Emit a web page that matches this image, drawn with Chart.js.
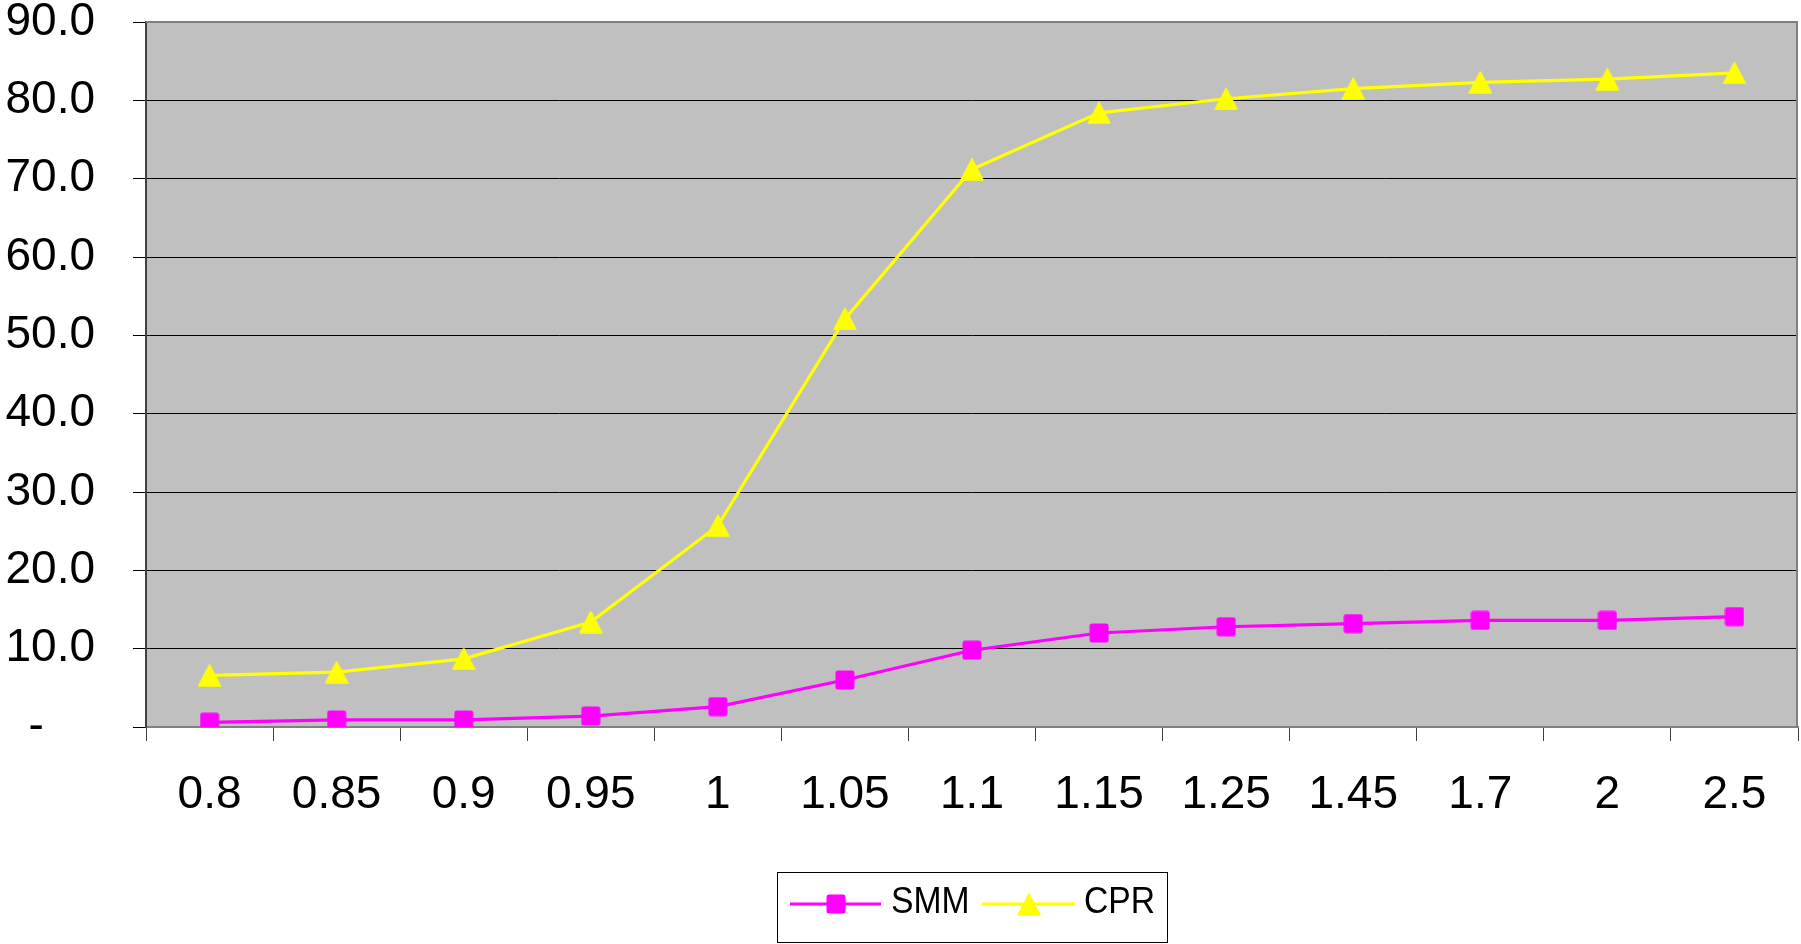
<!DOCTYPE html>
<html>
<head>
<meta charset="utf-8">
<script src="https://cdn.jsdelivr.net/npm/chart.js@4/dist/chart.umd.min.js"></script>
<style>
  html, body { margin: 0; padding: 0; background: #ffffff; overflow: hidden; }
  #wrap { width: 1801px; height: 944px; }
</style>
</head>
<body>
<div id="wrap"><canvas id="c" width="1801" height="944"></canvas></div>
<script>
// Prepayment speed by incentive ratio
const categories = ['0.8', '0.85', '0.9', '0.95', '1', '1.05', '1.1', '1.15', '1.25', '1.45', '1.7', '2', '2.5'];
const smmValues = [0.6, 0.9, 0.9, 1.4, 2.6, 6.0, 9.8, 12.0, 12.8, 13.2, 13.6, 13.6, 14.1];
const cprValues = [6.6, 7.0, 8.7, 13.4, 25.7, 52.1, 71.2, 78.4, 80.2, 81.5, 82.3, 82.7, 83.5];
const seriesNames = ['SMM', 'CPR'];
const yTickValues = [0, 10, 20, 30, 40, 50, 60, 70, 80, 90];

const FONT = '"Liberation Sans", Arial, Helvetica, sans-serif';

// Marker bitmaps, centred on the data point
function squareMarker(color, size) {
  const cv = document.createElement('canvas');
  cv.width = size; cv.height = size;
  const g = cv.getContext('2d');
  g.fillStyle = color;
  g.beginPath();
  if (g.roundRect) g.roundRect(0.5, 0.5, size - 1, size - 1, 2.5); else g.rect(0.5, 0.5, size - 1, size - 1);
  g.fill();
  return cv;
}
function triangleMarker(color, w, h) {
  const cv = document.createElement('canvas');
  cv.width = w; cv.height = h;
  const g = cv.getContext('2d');
  g.fillStyle = color;
  g.strokeStyle = color;
  g.lineJoin = 'round';
  g.lineWidth = 1.5;
  g.beginPath();
  g.moveTo(w / 2, 1);
  g.lineTo(w - 1, h - 1);
  g.lineTo(1, h - 1);
  g.closePath();
  g.fill();
  g.stroke();
  return cv;
}

const smmColor = '#ff00ff';
const cprColor = '#ffff00';
const smmMarker = squareMarker(smmColor, 20);
const cprMarker = triangleMarker(cprColor, 24, 23);

// Grey plot area and its frame
const plotFrame = {
  id: 'plotFrame',
  beforeDraw(chart) {
    const { ctx, chartArea: a } = chart;
    ctx.save();
    ctx.fillStyle = '#c0c0c0';
    ctx.fillRect(a.left, a.top, a.right - a.left, a.bottom - a.top);
    ctx.restore();
  },
  afterDraw(chart) {
    const { ctx, chartArea: a } = chart;
    ctx.save();
    ctx.strokeStyle = '#808080';
    ctx.lineWidth = 2;
    ctx.beginPath();
    ctx.moveTo(a.left, a.top);
    ctx.lineTo(a.right - 1, a.top);
    ctx.lineTo(a.right - 1, a.bottom);
    ctx.stroke();
    ctx.restore();
  }
};

// Boxed legend under the chart
const boxLegend = {
  id: 'boxLegend',
  afterDraw(chart) {
    const { ctx } = chart;
    const box = { x: 777.5, y: 872.5, w: 390, h: 70 };
    const cy = 904;
    ctx.save();
    ctx.fillStyle = '#ffffff';
    ctx.fillRect(box.x, box.y, box.w, box.h);
    ctx.strokeStyle = '#000000';
    ctx.lineWidth = 1;
    ctx.strokeRect(box.x, box.y, box.w, box.h);
    const items = [
      { ds: chart.data.datasets[0], x0: 790, x1: 881, tx: 891 },
      { ds: chart.data.datasets[1], x0: 982, x1: 1075, tx: 1084 }
    ];
    items.forEach(it => {
      ctx.strokeStyle = it.ds.borderColor;
      ctx.lineWidth = 3;
      ctx.beginPath();
      ctx.moveTo(it.x0, cy);
      ctx.lineTo(it.x1, cy);
      ctx.stroke();
      const m = it.ds.pointStyle;
      const mx = (it.x0 + it.x1) / 2;
      ctx.drawImage(m, Math.round(mx - m.width / 2), Math.round(cy - m.height / 2));
      ctx.save();
      ctx.translate(it.tx, cy - 1);
      ctx.scale(0.91, 1);
      ctx.fillStyle = '#000000';
      ctx.font = '37px ' + FONT;
      ctx.textBaseline = 'middle';
      ctx.textAlign = 'left';
      ctx.fillText(it.ds.label, 0, 0);
      ctx.restore();
    });
    ctx.restore();
  }
};

new Chart(document.getElementById('c'), {
  type: 'line',
  data: {
    labels: categories,
    datasets: [
      {
        label: seriesNames[0],
        data: smmValues,
        borderColor: smmColor,
        backgroundColor: smmColor,
        borderWidth: 3.2,
        pointStyle: smmMarker,
        pointRadius: 10,
        tension: 0,
        fill: false
      },
      {
        label: seriesNames[1],
        data: cprValues,
        borderColor: cprColor,
        backgroundColor: cprColor,
        borderWidth: 3.2,
        pointStyle: cprMarker,
        pointRadius: 12,
        tension: 0,
        fill: false
      }
    ]
  },
  options: {
    responsive: false,
    animation: false,
    devicePixelRatio: 1,
    layout: { autoPadding: false, padding: { left: 0, top: 22, right: 3, bottom: 0 } },
    plugins: {
      legend: { display: false },
      tooltip: { enabled: false }
    },
    scales: {
      x: {
        offset: true,
        grid: {
          offset: true,
          drawOnChartArea: false,
          drawTicks: true,
          tickLength: 14,
          color: '#404040',
          lineWidth: 1
        },
        border: { color: '#808080', width: 2 },
        ticks: {
          color: '#000000',
          font: { family: FONT, size: 46 },
          padding: 27,
          maxRotation: 0,
          autoSkip: false
        },
        afterFit(scale) {
          scale.height = 217;
          scale.paddingLeft = 0;
          scale.paddingRight = 0;
        }
      },
      y: {
        min: yTickValues[0],
        max: yTickValues[yTickValues.length - 1],
        afterBuildTicks(scale) {
          scale.ticks = yTickValues.map(v => ({ value: v }));
        },
        grid: {
          color: '#000000',
          lineWidth: 1,
          tickLength: 13
        },
        border: { color: '#404040', width: 2 },
        ticks: {
          color: '#000000',
          font: { family: FONT, size: 46 },
          padding: 38,
          callback: v => (v === 0 ? '-    ' : Number(v).toFixed(1))
        },
        afterFit(scale) {
          scale.width = 146;
          scale.paddingTop = 0;
          scale.paddingBottom = 0;
        }
      }
    }
  },
  plugins: [plotFrame, boxLegend]
});
</script>
</body>
</html>
